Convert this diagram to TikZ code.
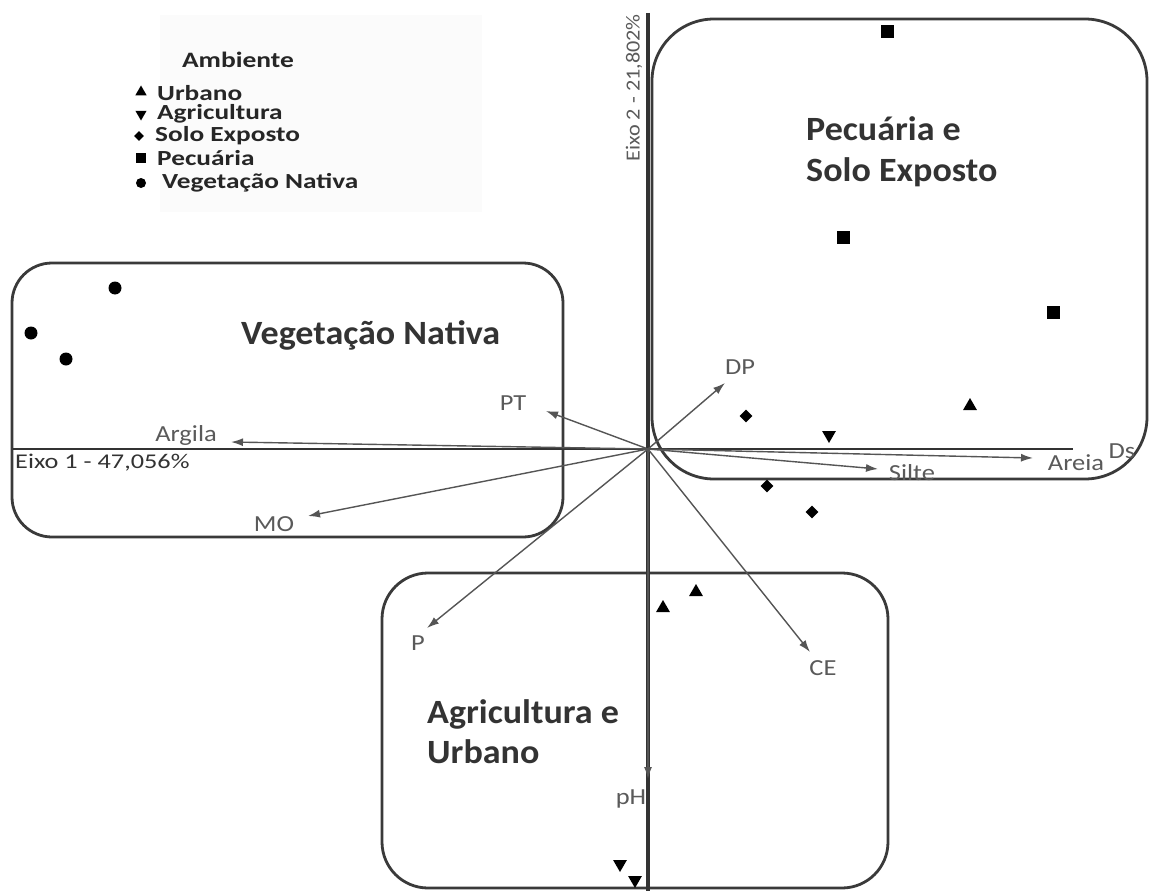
\documentclass[tikz,border=0pt]{standalone}
\usepackage{fontspec}
\usepackage{graphicx}
\setmainfont{Carlito}
\usetikzlibrary{arrows.meta,shapes.geometric}
\definecolor{axisc}{HTML}{333333}
\definecolor{vecc}{HTML}{555555}
\definecolor{labc}{HTML}{5A5A5A}
\definecolor{boxc}{HTML}{3A3A3A}
\newcommand{\hstretch}[2]{\scalebox{#1}[1]{#2}}
\tikzset{
  region/.style={draw=boxc,line width=2.8pt},
  axisline/.style={draw=axisc,line width=3.2pt},
  vec/.style={draw=vecc,line width=1.4pt,-{Latex[length=12pt,width=8pt]}},
  veclab/.style={text=labc,font=\fontsize{23}{26}\selectfont,inner sep=0pt},
  reglab/.style={text=axisc,font=\bfseries\fontsize{34}{40}\selectfont,anchor=base west,inner sep=0pt},
  leg/.style={text=black!85,font=\bfseries\fontsize{21.5}{22}\selectfont,anchor=west,inner sep=0pt},
  tup/.style={regular polygon,regular polygon sides=3,fill=black,minimum size=16pt,inner sep=0pt},
  tdown/.style={regular polygon,regular polygon sides=3,shape border rotate=180,fill=black,minimum size=16pt,inner sep=0pt},
  dia/.style={diamond,fill=black,minimum size=13pt,inner sep=0pt},
  sq/.style={rectangle,fill=black,minimum size=13pt,inner sep=0pt},
  dot/.style={circle,fill=black,minimum size=13pt,inner sep=0pt},
}
\begin{document}
\begin{tikzpicture}[x=1pt,y=-1pt]
\useasboundingbox (0,0) rectangle (1149,891);
\fill[white] (0,0) rectangle (1149,891);
% legend background
\fill[black!1.5] (160,15) rectangle (482,212);
% legend
\node[text=black!85,font=\bfseries\fontsize{22}{24}\selectfont,inner sep=0pt] (legtitle) at (238,60) {\hstretch{1.25}{Ambiente}};
\node[tup,minimum size=13pt] (lm1) at (141,92) {};
\node[leg] (lt1) at (157,93) {\hstretch{1.27}{Urbano}};
\node[tdown,minimum size=13pt] (lm2) at (141,114) {};
\node[leg] (lt2) at (157,114) {\hstretch{1.27}{Agricultura}};
\node[dia,minimum size=10pt] (lm3) at (139,136) {};
\node[leg] (lt3) at (155,136) {\hstretch{1.27}{Solo Exposto}};
\node[sq,minimum size=10pt] (lm4) at (141,158) {};
\node[leg] (lt4) at (157,158) {\hstretch{1.27}{Pecuária}};
\node[dot,minimum size=10pt] (lm5) at (141,183) {};
\node[leg] (lt5) at (162,183) {\hstretch{1.27}{Vegetação Nativa}};
% region boxes
\draw[region,rounded corners=40pt] (12,263) rectangle (563,537);
\draw[region,rounded corners=62pt] (652,19) rectangle (1147,479);
\draw[region,rounded corners=46pt] (382,573) rectangle (888,888);
% axes
\coordinate (O) at (648,449);
\coordinate (ytop) at (648,13);
\coordinate (ybot) at (648,891);
\coordinate (xl) at (13,449);
\coordinate (xr) at (1073,449);
\draw[axisline] (ytop) -- (ybot);
\draw[axisline,line width=2.8pt] (xl) -- (xr);
\node[rotate=90,text=labc,font=\fontsize{20}{22}\selectfont,inner sep=0pt] (eixo2) at (634,88) {\hstretch{1.11}{Eixo 2 - 21,802\%}};
\node[anchor=west,text=axisc,font=\fontsize{21}{22}\selectfont,inner sep=0pt] (eixo1) at (15,463) {\hstretch{1.25}{Eixo 1 - 47,056\%}};
% vectors
\coordinate (vArgila) at (231,442);
\coordinate (vPT) at (546,411);
\coordinate (vDP) at (725,383);
\coordinate (vMO) at (308,516);
\coordinate (vP) at (427,628);
\coordinate (vCE) at (810,652);
\coordinate (vSilte) at (878,469);
\coordinate (vAreia) at (1033,458);
\coordinate (vpH) at (648,779);
\foreach \v in {Argila,PT,DP,MO,P,CE,Silte,Areia,pH}{\draw[vec] (O) -- (v\v);}
\node[veclab] (lArgila) at (186,435) {\hstretch{1.15}{Argila}};
\node[veclab] (lPT) at (513,403) {\hstretch{1.15}{PT}};
\node[veclab] (lDP) at (740,367) {\hstretch{1.15}{DP}};
\node[veclab] (lMO) at (274,524) {\hstretch{1.15}{MO}};
\node[veclab] (lP) at (418,643) {\hstretch{1.15}{P}};
\node[veclab] (lCE) at (823,668) {\hstretch{1.15}{CE}};
\node[veclab] (lSilte) at (912,473) {\hstretch{1.15}{Silte}};
\node[veclab] (lAreia) at (1076,463) {\hstretch{1.15}{Areia}};
\node[veclab] (lDs) at (1122,451) {\hstretch{1.15}{Ds}};
\node[veclab] (lpH) at (631,799) {\hstretch{1.15}{pH}};
% region labels
\node[reglab] (rVeg) at (241,344) {\hstretch{1.06}{Vegetação Nativa}};
\node[reglab] (rPec1) at (806,140) {\hstretch{1.06}{Pecuária e}};
\node[reglab] (rPec2) at (806,181) {\hstretch{1.06}{Solo Exposto}};
\node[reglab] (rAgr1) at (427,723) {\hstretch{1.06}{Agricultura e}};
\node[reglab] (rAgr2) at (427,763) {\hstretch{1.06}{Urbano}};
% points
\node[dot] (c1) at (115,288) {};
\node[dot] (c2) at (31,333) {};
\node[dot] (c3) at (66,359) {};
\node[sq] (s1) at (887,32) {};
\node[sq] (s2) at (843,237) {};
\node[sq] (s3) at (1053,312) {};
\node[tup] (u1) at (970,406) {};
\node[tup] (u2) at (663,608) {};
\node[tup] (u3) at (696,592) {};
\node[tdown] (a1) at (829,435) {};
\node[tdown] (a2) at (620,864) {};
\node[tdown] (a3) at (635,880) {};
\node[dia] (d1) at (746,416) {};
\node[dia] (d2) at (767,486) {};
\node[dia] (d3) at (812,512) {};
\end{tikzpicture}
\end{document}
